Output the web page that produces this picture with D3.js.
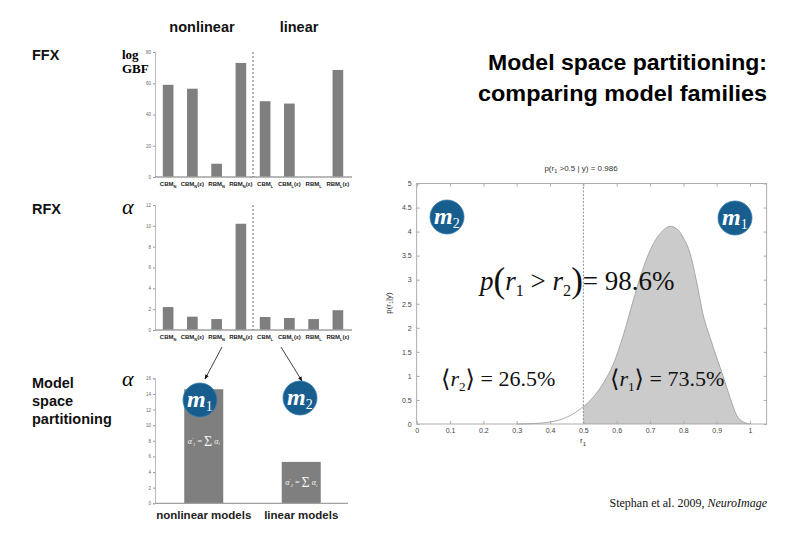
<!DOCTYPE html>
<html><head><meta charset="utf-8">
<script src="https://cdn.jsdelivr.net/npm/d3@7"></script>
<style>body{margin:0;background:#fff}svg{display:block}</style>
</head><body>
<svg id="c" width="810" height="540"></svg>
<script>
// ---------- data ----------
const categories = ["CBM_N", "CBM_N(ε)", "RBM_N", "RBM_N(ε)", "CBM_L", "CBM_L(ε)", "RBM_L", "RBM_L(ε)"];
const ffxValues = [59, 56.5, 8.5, 73, 48.5, 47, 0, 68.5];
const rfxValues = [2.2, 1.28, 1.05, 10.2, 1.25, 1.15, 1.05, 1.9];
const ffxTicks = [0, 20, 40, 60, 80];
const rfxTicks = [0, 2, 4, 6, 8, 10, 12];
const familyLabels = ["nonlinear models", "linear models"];
const familyValues = [14.6, 5.3];
const familyTicks = [0, 2, 4, 6, 8, 10, 12, 14, 16];
const postR = [0.30, 0.35, 0.40, 0.45, 0.50, 0.53, 0.56, 0.59, 0.62, 0.65, 0.68, 0.71, 0.74, 0.76, 0.78, 0.80, 0.82, 0.84, 0.86, 0.88, 0.90, 0.92, 0.94, 0.96, 0.98, 1.00];
const postP = [0.00, 0.01, 0.04, 0.14, 0.36, 0.56, 0.85, 1.25, 1.85, 2.58, 3.25, 3.75, 4.03, 4.11, 4.06, 3.87, 3.55, 2.95, 2.25, 1.80, 1.38, 0.98, 0.55, 0.18, 0.04, 0.00];
const postXTicks = [0, 0.1, 0.2, 0.3, 0.4, 0.5, 0.6, 0.7, 0.8, 0.9, 1];
const postYTicks = [0, 0.5, 1, 1.5, 2, 2.5, 3, 3.5, 4, 4.5, 5];

const svg = d3.select("#c");
const SANS = "Liberation Sans, Arial, sans-serif";
const SERIF = "Liberation Serif, Times New Roman, serif";
const BAR = "#7f7f7f";

// ---------- left labels ----------
const leftLab = [["FFX", 60], ["RFX", 214], ["Model", 388], ["space", 406], ["partitioning", 424]];
svg.selectAll("text.ll").data(leftLab).join("text")
  .attr("x", 32).attr("y", d => d[1]).text(d => d[0])
  .attr("font-family", SANS).attr("font-weight", "bold").attr("font-size", 14.5).attr("fill", "#111");

svg.append("text").attr("x", 122).attr("y", 59).text("log").attr("font-family", SERIF).attr("font-weight", "bold").attr("font-size", 13);
svg.append("text").attr("x", 122).attr("y", 73).text("GBF").attr("font-family", SERIF).attr("font-weight", "bold").attr("font-size", 13);
[[208], [380]].forEach(d => svg.append("text").attr("x", 122).attr("y", d[0] + 6).text("α")
  .attr("font-family", SERIF).attr("font-style", "italic").attr("font-size", 22));

svg.append("text").attr("x", 202).attr("y", 32).attr("text-anchor", "middle").text("nonlinear")
  .attr("font-family", SANS).attr("font-weight", "bold").attr("font-size", 14.5).attr("fill", "#111");
svg.append("text").attr("x", 299).attr("y", 32).attr("text-anchor", "middle").text("linear")
  .attr("font-family", SANS).attr("font-weight", "bold").attr("font-size", 14.5).attr("fill", "#111");

// ---------- small bar charts ----------
const xCat = d3.scaleBand().domain(categories).range([156, 350]).paddingInner(0.56).paddingOuter(0.28);

function catLabel(g, cat, cx, y) {
  const m = cat.match(/^([A-Z]+)_([A-Z])(.*)$/);
  const t = g.append("text").attr("x", cx).attr("y", y).attr("text-anchor", "middle")
    .attr("font-family", SANS).attr("font-weight", "bold").attr("font-size", 6).attr("fill", "#222");
  t.append("tspan").text(m[1]);
  t.append("tspan").attr("font-size", 4).attr("dy", 1.5).text(m[2]);
  if (m[3]) t.append("tspan").attr("dy", -1.5).text(m[3]);
}

function smallChart(values, ticks, y0, y1, dmax, labY) {
  const g = svg.append("g");
  const y = d3.scaleLinear().domain([0, dmax]).range([y0, y1]);
  const ax = g.append("g").attr("transform", "translate(155,0)")
    .call(d3.axisLeft(y).tickValues(ticks).tickSize(2).tickPadding(2));
  ax.select(".domain").attr("stroke", "#bbb");
  ax.selectAll(".tick line").attr("stroke", "#999");
  ax.selectAll(".tick text").attr("font-size", 4.5).attr("fill", "#666").attr("font-family", SANS);
  g.selectAll("rect").data(values).join("rect")
    .attr("x", (d, i) => xCat(categories[i])).attr("width", xCat.bandwidth())
    .attr("y", d => y(d)).attr("height", d => y(0) - y(d)).attr("fill", BAR);
  g.append("line").attr("x1", 155).attr("x2", 352).attr("y1", y(0)).attr("y2", y(0))
    .attr("stroke", "#a0a0a0").attr("stroke-width", 1.5);
  const xd = (xCat(categories[3]) + xCat.bandwidth() + xCat(categories[4])) / 2;
  g.append("line").attr("x1", xd).attr("x2", xd).attr("y1", y(dmax)).attr("y2", y(0))
    .attr("stroke", "#444").attr("stroke-width", 0.8).attr("stroke-dasharray", "2,2");
  categories.forEach(c => catLabel(g, c, xCat(c) + xCat.bandwidth() / 2, labY));
}
smallChart(ffxValues, ffxTicks, 177, 52, 80, 186);
smallChart(rfxValues, rfxTicks, 330, 205, 12, 339);

// ---------- model family chart ----------
const xFam = d3.scaleBand().domain(familyLabels).range([155, 350]).paddingInner(0.6).paddingOuter(0.3);
const yFam = d3.scaleLinear().domain([0, 16]).range([503.3, 378.3]);
{
  const g = svg.append("g");
  const ax = g.append("g").attr("transform", "translate(155,0)")
    .call(d3.axisLeft(yFam).tickValues(familyTicks).tickSize(2).tickPadding(2));
  ax.select(".domain").attr("stroke", "#bbb");
  ax.selectAll(".tick line").attr("stroke", "#999");
  ax.selectAll(".tick text").attr("font-size", 4.5).attr("fill", "#666").attr("font-family", SANS);
  g.selectAll("rect").data(familyValues).join("rect")
    .attr("x", (d, i) => xFam(familyLabels[i])).attr("width", xFam.bandwidth())
    .attr("y", d => yFam(d)).attr("height", d => yFam(0) - yFam(d)).attr("fill", BAR);
  g.append("line").attr("x1", 155).attr("x2", 348).attr("y1", yFam(0)).attr("y2", yFam(0))
    .attr("stroke", "#a0a0a0").attr("stroke-width", 1.2);
  familyLabels.forEach(f => g.append("text").attr("x", xFam(f) + xFam.bandwidth() / 2).attr("y", 519)
    .attr("text-anchor", "middle").text(f).attr("font-family", SANS).attr("font-weight", "bold")
    .attr("font-size", 11.5).attr("fill", "#222"));
  // formulas inside bars
  const fy = [yFam(7.6), yFam(2.3)];
  familyLabels.forEach((f, i) => {
    const cx = xFam(f) + xFam.bandwidth() / 2;
    const t = g.append("text").attr("x", cx).attr("y", fy[i]).attr("text-anchor", "middle")
      .attr("font-family", SERIF).attr("font-style", "italic").attr("font-size", 8).attr("fill", "#f4f4f4");
    t.append("tspan").text("α");
    t.append("tspan").attr("font-size", 5).attr("dy", -3).text("′");
    t.append("tspan").attr("font-size", 5).attr("dy", 5).text(String(i + 1));
    t.append("tspan").attr("dy", -2).attr("font-style", "normal").text(" = ");
    t.append("tspan").attr("font-style", "normal").attr("font-size", 14).attr("dy", 2).text("Σ");
    t.append("tspan").attr("dy", -2).text(" α");
    t.append("tspan").attr("font-size", 5).attr("dy", 1.5).text("i");
  });
}

// arrows
const defs = svg.append("defs");
defs.append("marker").attr("id", "ah").attr("viewBox", "0 0 10 10").attr("refX", 9).attr("refY", 5)
  .attr("markerWidth", 6).attr("markerHeight", 6).attr("orient", "auto")
  .append("path").attr("d", "M0,1 L10,5 L0,9 Z").attr("fill", "#111");
[[222, 347, 205, 379], [281, 347, 302, 381]].forEach(a =>
  svg.append("line").attr("x1", a[0]).attr("y1", a[1]).attr("x2", a[2]).attr("y2", a[3])
    .attr("stroke", "#111").attr("stroke-width", 0.8).attr("marker-end", "url(#ah)"));

// ---------- m circles ----------
function mCircle(cx, cy, sub) {
  const g = svg.append("g");
  g.append("circle").attr("cx", cx).attr("cy", cy).attr("r", 17).attr("fill", "#175d8e")
    .attr("stroke", "#3a7fae").attr("stroke-width", 0.8);
  const t = g.append("text").attr("x", cx - 13).attr("y", cy + 7).attr("font-family", SERIF)
    .attr("fill", "#fff").attr("font-weight", "bold");
  t.append("tspan").attr("font-style", "italic").attr("font-size", 24).text("m");
  t.append("tspan").attr("font-size", 14).attr("dy", 4).attr("font-weight", "normal").text(sub);
}
mCircle(200, 400, "1");
mCircle(300, 398, "2");

// ---------- right posterior chart ----------
const xP = d3.scaleLinear().domain([0, 1.05]).range([416.7, 766.7]);
const yP = d3.scaleLinear().domain([0, 5]).range([424, 183.5]);
{
  const g = svg.append("g");
  const pts = postR.map((r, i) => [r, postP[i]]);
  const shaded = pts.filter(d => d[0] >= 0.5);
  g.append("path").datum(shaded)
    .attr("d", d3.area().x(d => xP(d[0])).y0(yP(0)).y1(d => yP(d[1])).curve(d3.curveMonotoneX))
    .attr("fill", "#cbcbcb");
  g.append("path").datum(pts)
    .attr("d", d3.line().x(d => xP(d[0])).y(d => yP(d[1])).curve(d3.curveMonotoneX))
    .attr("fill", "none").attr("stroke", "#999").attr("stroke-width", 0.8);
  g.append("line").attr("x1", xP(0.5)).attr("x2", xP(0.5)).attr("y1", yP(5)).attr("y2", yP(0))
    .attr("stroke", "#777").attr("stroke-width", 0.8).attr("stroke-dasharray", "2,1.5");
  // box
  g.append("rect").attr("x", xP(0)).attr("y", yP(5)).attr("width", xP(1.05) - xP(0)).attr("height", yP(0) - yP(5))
    .attr("fill", "none").attr("stroke", "#999").attr("stroke-width", 0.8);
  const bx = g.append("g").attr("transform", `translate(0,${yP(0)})`)
    .call(d3.axisBottom(xP).tickValues(postXTicks).tickSize(-3).tickPadding(4).tickFormat(d3.format("")));
  const tx = g.append("g").attr("transform", `translate(0,${yP(5)})`)
    .call(d3.axisTop(xP).tickValues(postXTicks).tickSize(-3).tickFormat(""));
  const ly = g.append("g").attr("transform", `translate(${xP(0)},0)`)
    .call(d3.axisLeft(yP).tickValues(postYTicks).tickSize(-3).tickPadding(5).tickFormat(d3.format("")));
  const ry = g.append("g").attr("transform", `translate(${xP(1.05)},0)`)
    .call(d3.axisRight(yP).tickValues(postYTicks).tickSize(-3).tickFormat(""));
  [bx, tx, ly, ry].forEach(a => {
    a.select(".domain").remove();
    a.selectAll(".tick line").attr("stroke", "#aaa");
    a.selectAll(".tick text").attr("font-size", 7).attr("fill", "#444").attr("font-family", SANS);
  });
  // title
  const tt = g.append("text").attr("x", 581).attr("y", 171).attr("text-anchor", "middle")
    .attr("font-family", SANS).attr("font-size", 8).attr("fill", "#333");
  tt.append("tspan").text("p(r");
  tt.append("tspan").attr("font-size", 5.5).attr("dy", 2).text("1");
  tt.append("tspan").attr("dy", -2).text(" >0.5 | y) = 0.986");
  // x label
  const xl = g.append("text").attr("x", 583).attr("y", 443).attr("text-anchor", "middle")
    .attr("font-family", SANS).attr("font-size", 8).attr("fill", "#333");
  xl.append("tspan").text("r");
  xl.append("tspan").attr("font-size", 6).attr("dy", 3).text("1");
  // y label
  const yl = g.append("text").attr("transform", "translate(391,303) rotate(-90)").attr("text-anchor", "middle")
    .attr("font-family", SANS).attr("font-size", 8).attr("fill", "#333");
  yl.append("tspan").text("p(r");
  yl.append("tspan").attr("font-size", 5.5).attr("dy", 2).text("1");
  yl.append("tspan").attr("dy", -2).text("|y)");
}

// math annotations
function mathText(x, y, size, parts, anchor) {
  const t = svg.append("text").attr("x", x).attr("y", y).attr("font-family", SERIF)
    .attr("font-size", size).attr("fill", "#111");
  if (anchor) t.attr("text-anchor", anchor);
  parts.forEach(p => {
    const s = t.append("tspan").attr("y", y + (p.dy || 0)).text(p.t);
    if (p.i) s.attr("font-style", "italic");
    if (p.s) s.attr("font-size", size * p.s);
    if (p.f) s.attr("font-family", p.f);
  });
  return t;
}
mathText(480, 290, 27, [
  {t: "p", i: 1}, {t: "(", s: 1.3, dy: 2}, {t: "r", i: 1}, {t: "1", s: 0.6, dy: 6}, {t: " > "},
  {t: "r", i: 1}, {t: "2", s: 0.6, dy: 6}, {t: ")", s: 1.3, dy: 2}, {t: "= 98.6%"}
]);
mathText(441, 386, 22, [
  {t: "⟨", f: "DejaVu Serif", s: 1.1, dy: 1}, {t: "r", i: 1}, {t: "2", s: 0.6, dy: 5},
  {t: "⟩", f: "DejaVu Serif", s: 1.1, dy: 1}, {t: " = 26.5%"}
]);
mathText(610, 386, 22, [
  {t: "⟨", f: "DejaVu Serif", s: 1.1, dy: 1}, {t: "r", i: 1}, {t: "1", s: 0.6, dy: 5},
  {t: "⟩", f: "DejaVu Serif", s: 1.1, dy: 1}, {t: " = 73.5%"}
]);
mCircle(447, 217, "2");
mCircle(735, 218, "1");

// title
svg.append("text").attr("x", 767).attr("y", 70).attr("text-anchor", "end").text("Model space partitioning:")
  .attr("font-family", SANS).attr("font-weight", "bold").attr("font-size", 22)
  .attr("textLength", 279).attr("lengthAdjust", "spacingAndGlyphs");
svg.append("text").attr("x", 767).attr("y", 101).attr("text-anchor", "end").text("comparing model families")
  .attr("font-family", SANS).attr("font-weight", "bold").attr("font-size", 22)
  .attr("textLength", 289).attr("lengthAdjust", "spacingAndGlyphs");

// citation
const cit = svg.append("text").attr("x", 767).attr("y", 507).attr("text-anchor", "end")
  .attr("font-family", SERIF).attr("font-size", 12).attr("fill", "#111");
cit.append("tspan").text("Stephan et al. 2009, ");
cit.append("tspan").attr("font-style", "italic").text("NeuroImage");
</script>
</body></html>
